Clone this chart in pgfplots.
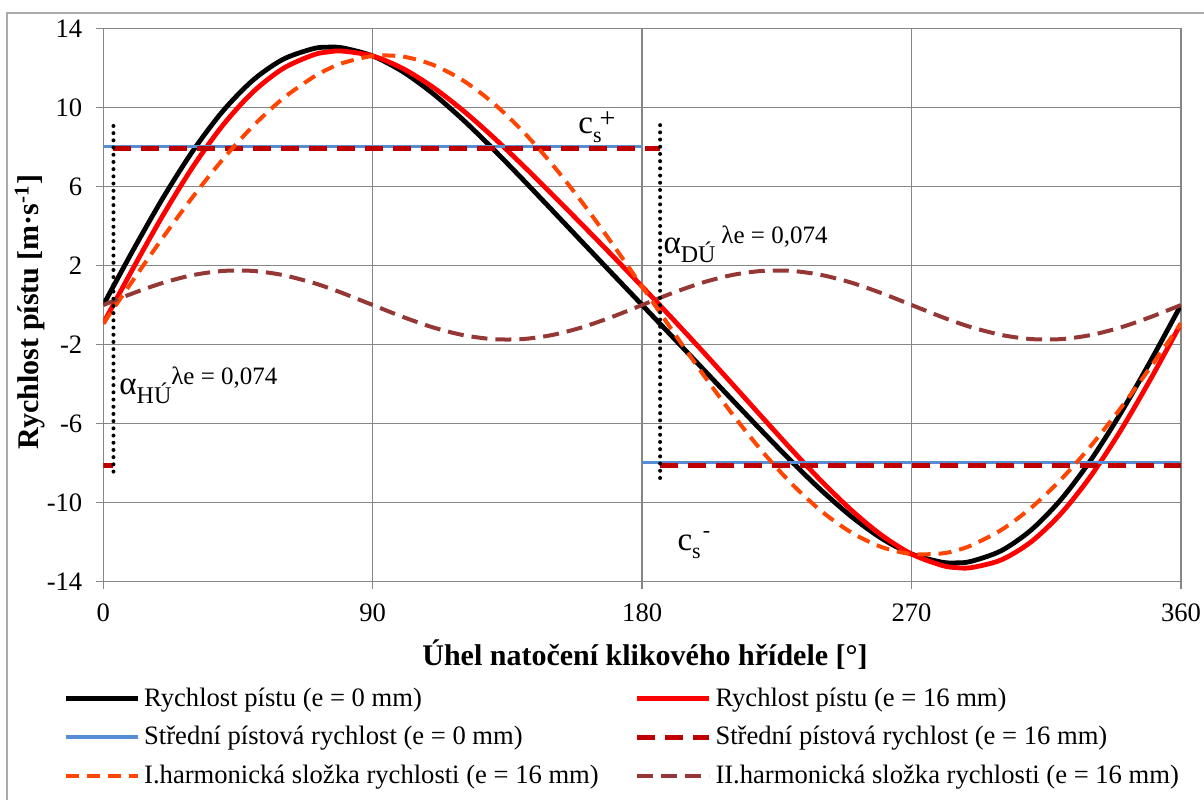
\documentclass[border=0pt]{standalone}
\usepackage{fontspec}
\setmainfont{Liberation Serif}
\usepackage{pgfplots}
\usepackage{pgfplotstable}
\pgfplotsset{compat=1.18}
\definecolor{gridgray}{RGB}{134,134,134}
\definecolor{cblue}{RGB}{85,142,213}
\definecolor{cdred}{RGB}{192,0,0}
\definecolor{corange}{RGB}{255,69,0}
\definecolor{cbrown}{RGB}{149,55,53}
\pgfplotstableread{
a b r o h
0 0 -0.932 -0.932 0
10 2.787 1.869 1.270 0.599
20 5.435 4.559 3.433 1.126
30 7.816 7.009 5.493 1.516
40 9.823 9.109 7.385 1.724
50 11.376 10.777 9.053 1.724
60 12.428 11.962 10.446 1.516
70 12.966 12.647 11.521 1.126
75 13.046 12.805 11.930 0.876
80 13.008 12.846 12.247 0.599
90 12.600 12.600 12.600 0
100 11.810 11.972 12.571 -0.599
110 10.714 11.033 12.159 -1.126
120 9.396 9.862 11.378 -1.516
130 7.928 8.527 10.251 -1.724
140 6.375 7.089 8.813 -1.724
150 4.784 5.591 7.107 -1.516
160 3.183 4.059 5.185 -1.126
170 1.589 2.507 3.106 -0.599
180 0 0.932 0.932 0
190 -1.589 -0.671 -1.270 0.599
200 -3.183 -2.307 -3.433 1.126
210 -4.784 -3.977 -5.493 1.516
220 -6.375 -5.661 -7.385 1.724
230 -7.928 -7.329 -9.053 1.724
240 -9.396 -8.930 -10.446 1.516
250 -10.714 -10.395 -11.521 1.126
260 -11.810 -11.648 -12.247 0.599
270 -12.600 -12.600 -12.600 0
280 -13.008 -13.170 -12.571 -0.599
285 -13.047 -13.288 -12.412 -0.876
290 -12.966 -13.285 -12.159 -1.126
300 -12.428 -12.894 -11.378 -1.516
310 -11.376 -11.975 -10.251 -1.724
320 -9.823 -10.537 -8.813 -1.724
330 -7.816 -8.623 -7.107 -1.516
340 -5.435 -6.311 -5.185 -1.126
350 -2.787 -3.705 -3.106 -0.599
360 0 -0.932 -0.932 0
}\data
\newcommand{\alab}[2]{{\fontsize{16.5}{18}\selectfont α}\raisebox{-4.5pt}{\fontsize{12}{13}\selectfont #1}#2\raisebox{5pt}{\fontsize{12.5}{13}\selectfont λe = 0,074}}
\begin{document}
\begin{tikzpicture}
\useasboundingbox (0,0) rectangle (602pt,-399.5pt);
\draw[gridgray!70, line width=0.75pt] (3.5pt,-410pt) -- (3.5pt,-6.5pt) -- (610pt,-6.5pt);
\begin{axis}[
  at={(51.65pt,-290.85pt)}, anchor=south west,
  width=538.85pt, height=276.7pt, scale only axis,
  xmin=0, xmax=360, ymin=-14, ymax=14,
  xtick={0,90,180,270,360},
  ytick={-14,-10,-6,-2,2,6,10,14},
  grid=major,
  major grid style={gridgray, line width=0.75pt},
  axis line style={gridgray, line width=0.75pt},
  tick style={gridgray, line width=0.75pt},
  tick align=outside, major tick length=3.5pt,
  tick pos=left,
  ticklabel style={font=\fontsize{13.3}{15}\selectfont, text=black},
  yticklabel style={xshift=-3.5pt},
  xticklabel style={yshift=-4pt},
  /pgf/number format/assume math mode=true,
  legend columns=2,
  legend cell align=left,
  legend style={at={(axis description cs:-0.0374,-0.184)}, anchor=north west,
    draw=none, fill=none, font=\fontsize{13.3}{15}\selectfont,
    inner sep=0pt, row sep=4.5pt,
    /tikz/every even column/.append style={column sep=16pt}},
  legend image code/.code={\draw[#1] (0pt,0pt) -- (36pt,0pt);},
]
\addplot[black, line width=2.4pt, smooth] table[x=a,y=b]{\data};
\addlegendentry{Rychlost pístu (e = 0 mm)}
\addplot[red, line width=2.4pt, smooth] table[x=a,y=r]{\data};
\addlegendentry{Rychlost pístu (e = 16 mm)}
\addplot[cblue, line width=1.8pt] coordinates {(0,8.02) (180,8.02)};
\addlegendentry{Střední pístová rychlost (e = 0 mm)}
\addplot[cblue, line width=1.8pt, forget plot] coordinates {(180,-7.96) (360,-7.96)};
\addplot[cdred, line width=2.4pt, dash pattern=on 9pt off 5pt] coordinates {(3.4,7.93) (186,7.93)};
\addlegendentry{Střední pístová rychlost (e = 16 mm)}
\addplot[cdred, line width=2.4pt, dash pattern=on 9pt off 5pt, forget plot] coordinates {(186,-8.1) (360,-8.1)};
\addplot[cdred, line width=2.4pt, forget plot] coordinates {(0,-8.1) (3.4,-8.1)};
\addplot[corange, line width=2pt, dash pattern=on 6.5pt off 4pt, smooth] table[x=a,y=o]{\data};
\addlegendentry{I.harmonická složka rychlosti (e = 16 mm)}
\addplot[cbrown, line width=2pt, dash pattern=on 8pt off 4pt, smooth] table[x=a,y=h]{\data};
\addlegendentry{II.harmonická složka rychlosti (e = 16 mm)}
\addplot[black, line width=2pt, line cap=round, dash pattern=on 0pt off 3.6pt, forget plot] coordinates {(3.4,9.06) (3.4,-8.7)};
\addplot[black, line width=2pt, line cap=round, dash pattern=on 0pt off 3.6pt, forget plot] coordinates {(186,9.1) (186,-8.76)};
\node[anchor=base west, inner sep=0pt] at (axis cs:158.6,8.70) {{\fontsize{16.5}{18}\selectfont c}\raisebox{-4.5pt}{\fontsize{11}{12}\selectfont s}\kern-1pt\raisebox{3pt}{\fontsize{14}{14}\selectfont +}};
\node[anchor=base west, inner sep=0pt] at (axis cs:191.7,-12.40) {{\fontsize{16.5}{18}\selectfont c}\raisebox{-4pt}{\fontsize{11}{12}\selectfont s}\kern1pt\raisebox{6.2pt}{\fontsize{11}{11}\selectfont -}};
\node[anchor=base west, inner sep=0pt] at (axis cs:187.0,2.63) {\alab{DÚ}{\hspace{3pt}}};
\node[anchor=base west, inner sep=0pt] at (axis cs:5.25,-4.51) {\alab{HÚ}{}};
\end{axis}
\node[font=\fontsize{15}{17}\selectfont\bfseries, anchor=base] at (322.5pt,-332.5pt) {Úhel natočení klikového hřídele [°]};
\node[font=\fontsize{15}{17}\selectfont\bfseries, rotate=90, anchor=base] at (19.5pt,-156pt) {Rychlost pístu [m·s\textsuperscript{-1}]};
\end{tikzpicture}
\end{document}
